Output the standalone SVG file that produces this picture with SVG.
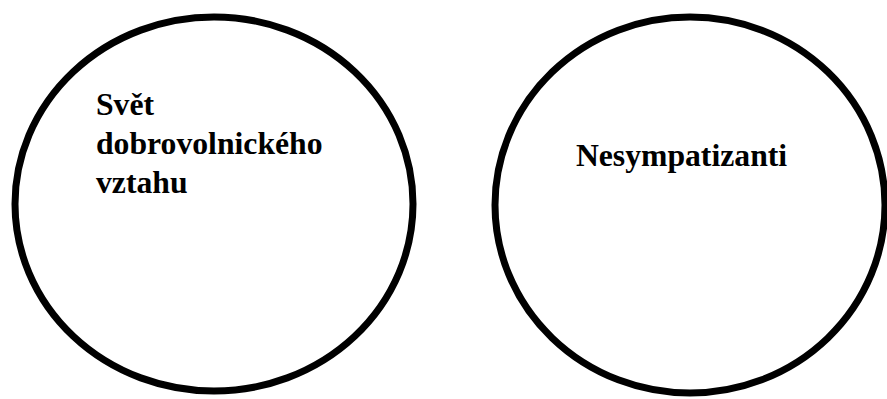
<svg xmlns="http://www.w3.org/2000/svg" width="887" height="399" viewBox="0 0 887 399">
<style>
.c{fill:none;stroke:#000;stroke-width:7}
.t{font-family:"Liberation Serif","Times New Roman",serif;font-weight:bold;font-size:31.7px;fill:#000}
</style>
<rect width="887" height="399" fill="#fff"/>
<g id="node-left">
<ellipse class="c" cx="214" cy="204" rx="199" ry="187"/>
<text class="t" x="96" y="115">Svět</text>
<text class="t" x="96" y="154">dobrovolnického</text>
<text class="t" x="96" y="193">vztahu</text>
</g>
<g id="node-right">
<ellipse class="c" cx="690" cy="205" rx="195" ry="188"/>
<text class="t" x="681.5" y="166" text-anchor="middle">Nesympatizanti</text>
</g>
<g id="connectors"></g>
</svg>
